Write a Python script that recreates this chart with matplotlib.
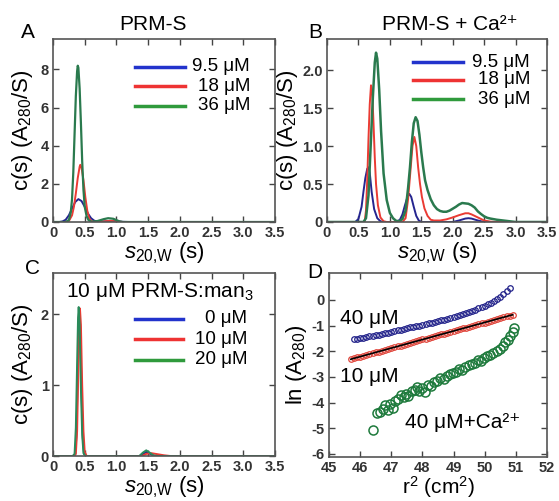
import matplotlib
matplotlib.use('Agg')
import matplotlib.pyplot as plt
import numpy as np

plt.rcParams['font.family'] = ['Liberation Sans', 'DejaVu Sans']
plt.rcParams['mathtext.fontset'] = 'custom'
plt.rcParams['mathtext.rm'] = 'Liberation Sans'
plt.rcParams['mathtext.it'] = 'Liberation Sans:italic'
plt.rcParams['mathtext.bf'] = 'Liberation Sans:bold'
plt.rcParams['axes.unicode_minus'] = False

# ---- data ----
# panel A: PRM-S, c(s) vs s20,w
a_labels = ['9.5 μM', '18 μM', '36 μM']
a_blue = [(0, 0), (0.10, 0), (0.15, 0.03), (0.20, 0.12), (0.25, 0.35), (0.30, 0.70), (0.35, 1.05),
          (0.40, 1.20), (0.45, 1.10), (0.50, 0.80), (0.55, 0.45), (0.60, 0.20), (0.65, 0.07),
          (0.70, 0.02), (0.80, 0.03), (0.90, 0.05), (1.00, 0.04), (1.10, 0.01), (1.20, 0), (3.5, 0)]
a_red = [(0, 0), (0.20, 0), (0.25, 0.05), (0.30, 0.35), (0.33, 0.80), (0.36, 1.50), (0.39, 2.30),
         (0.42, 2.90), (0.43, 3.00), (0.45, 2.85), (0.48, 2.20), (0.51, 1.30), (0.54, 0.60),
         (0.57, 0.20), (0.60, 0.05), (0.65, 0), (0.80, 0.03), (0.90, 0.06), (1.00, 0.03), (1.10, 0), (3.5, 0)]
a_green = [(0, 0), (0.20, 0), (0.25, 0.10), (0.28, 0.50), (0.30, 1.20), (0.32, 2.60), (0.34, 4.60),
           (0.36, 6.60), (0.38, 7.90), (0.39, 8.20), (0.40, 8.10), (0.42, 7.00), (0.44, 5.20),
           (0.46, 3.20), (0.48, 1.70), (0.50, 0.80), (0.53, 0.30), (0.56, 0.10), (0.60, 0.02),
           (0.70, 0.05), (0.80, 0.15), (0.87, 0.20), (0.95, 0.17), (1.00, 0.10), (1.05, 0.03),
           (1.10, 0), (3.5, 0)]

# panel B: PRM-S + Ca2+
b_labels = ['9.5 μM', '18 μM', '36 μM']
b_blue = [(0, 0), (0.45, 0), (0.50, 0.04), (0.55, 0.20), (0.58, 0.40), (0.61, 0.58), (0.64, 0.70),
          (0.66, 0.72), (0.68, 0.65), (0.71, 0.40), (0.75, 0.17), (0.80, 0.05), (0.85, 0.01),
          (0.90, 0), (1.10, 0), (1.16, 0.03), (1.20, 0.10), (1.24, 0.22), (1.28, 0.33), (1.31, 0.37),
          (1.34, 0.33), (1.38, 0.20), (1.42, 0.08), (1.46, 0.02), (1.50, 0), (2.00, 0), (2.10, 0.02),
          (2.20, 0.045), (2.25, 0.05), (2.30, 0.045), (2.40, 0.02), (2.50, 0), (3.5, 0)]
b_red = [(0, 0), (0.58, 0), (0.60, 0.01), (0.62, 0.15), (0.64, 0.55), (0.66, 1.10), (0.68, 1.55),
         (0.70, 1.80), (0.72, 1.70), (0.74, 1.30), (0.76, 0.85), (0.78, 0.50), (0.81, 0.22),
         (0.85, 0.06), (0.90, 0.01), (0.95, 0), (1.20, 0), (1.25, 0.05), (1.29, 0.30), (1.33, 0.70),
         (1.36, 1.00), (1.39, 1.12), (1.42, 1.00), (1.45, 0.72), (1.48, 0.50), (1.51, 0.33),
         (1.55, 0.18), (1.60, 0.08), (1.65, 0.03), (1.70, 0.02), (1.80, 0.02), (1.90, 0.035),
         (2.00, 0.06), (2.10, 0.09), (2.20, 0.115), (2.25, 0.115), (2.30, 0.10), (2.40, 0.06),
         (2.50, 0.02), (2.60, 0.005), (2.70, 0), (3.5, 0)]
b_green = [(0, 0), (0.58, 0), (0.62, 0.05), (0.66, 0.35), (0.70, 1.10), (0.73, 1.65), (0.76, 2.10),
           (0.78, 2.23), (0.80, 2.15), (0.83, 1.75), (0.86, 1.20), (0.90, 0.64), (0.95, 0.29),
           (1.00, 0.12), (1.05, 0.05), (1.10, 0.015), (1.15, 0.01), (1.20, 0.04), (1.25, 0.15),
           (1.29, 0.45), (1.32, 0.72), (1.35, 1.05), (1.38, 1.30), (1.41, 1.38), (1.44, 1.33),
           (1.47, 1.15), (1.50, 0.92), (1.53, 0.72), (1.56, 0.55), (1.60, 0.42), (1.65, 0.30),
           (1.70, 0.22), (1.75, 0.17), (1.80, 0.145), (1.85, 0.135), (1.90, 0.135), (1.95, 0.15),
           (2.00, 0.175), (2.05, 0.20), (2.10, 0.23), (2.15, 0.25), (2.20, 0.245), (2.25, 0.24),
           (2.30, 0.22), (2.35, 0.19), (2.40, 0.14), (2.45, 0.105), (2.50, 0.075), (2.55, 0.055),
           (2.60, 0.045), (2.70, 0.03), (2.80, 0.02), (2.90, 0.01), (3.00, 0), (3.5, 0)]

# panel C: 10 uM PRM-S:man3
c_labels = ['0 μM', '10 μM', '20 μM']
c_blue = [(0, 0), (0.32, 0), (0.35, 0.02), (0.37, 0.30), (0.39, 1.20), (0.405, 1.90), (0.415, 2.08),
          (0.43, 1.80), (0.45, 0.90), (0.47, 0.25), (0.49, 0.03), (0.52, 0), (1.38, 0), (1.44, 0.04),
          (1.48, 0.06), (1.53, 0.03), (1.60, 0), (3.5, 0)]
c_red = [(0, 0), (0.33, 0), (0.36, 0.03), (0.38, 0.35), (0.40, 1.25), (0.415, 1.90), (0.425, 2.08),
         (0.44, 1.85), (0.46, 1.00), (0.48, 0.35), (0.50, 0.06), (0.53, 0), (1.40, 0), (1.47, 0.03),
         (1.55, 0.04), (1.65, 0.025), (1.75, 0.01), (1.85, 0), (3.5, 0)]
c_green = [(0, 0), (0.31, 0), (0.34, 0.03), (0.36, 0.40), (0.38, 1.30), (0.395, 1.95), (0.405, 2.10),
           (0.42, 1.85), (0.44, 0.95), (0.46, 0.30), (0.48, 0.04), (0.51, 0), (1.36, 0), (1.42, 0.05),
           (1.47, 0.08), (1.52, 0.05), (1.58, 0.01), (1.65, 0), (3.5, 0)]

# panel D: ln(A280) vs r^2
d_blue = [(45.8, -1.54), (45.9, -1.52), (46.0, -1.50), (46.1, -1.47), (46.2, -1.45), (46.3, -1.42),
          (46.4, -1.40), (46.5, -1.37), (46.6, -1.35), (46.7, -1.32), (46.8, -1.29), (46.9, -1.27),
          (47.0, -1.24), (47.1, -1.21), (47.2, -1.18), (47.3, -1.16), (47.4, -1.13), (47.5, -1.10),
          (47.6, -1.07), (47.7, -1.05), (47.8, -1.02), (47.9, -1.00), (48.0, -0.97), (48.1, -0.94),
          (48.2, -0.91), (48.3, -0.88), (48.4, -0.86), (48.5, -0.83), (48.6, -0.80), (48.7, -0.77),
          (48.8, -0.73), (48.9, -0.70), (49.0, -0.66), (49.1, -0.63), (49.2, -0.59), (49.3, -0.55),
          (49.4, -0.51), (49.5, -0.47), (49.6, -0.43), (49.7, -0.38), (49.8, -0.33), (49.9, -0.28),
          (50.0, -0.23), (50.1, -0.17), (50.2, -0.11), (50.3, -0.05), (50.4, 0.03), (50.5, 0.12),
          (50.6, 0.22), (50.7, 0.34), (50.8, 0.46)]
d_red = [(45.7, -2.31), (45.8, -2.28), (45.9, -2.24), (46.0, -2.21), (46.1, -2.18), (46.2, -2.14),
         (46.3, -2.11), (46.4, -2.08), (46.5, -2.04), (46.6, -2.01), (46.7, -1.98), (46.8, -1.94),
         (46.9, -1.91), (47.0, -1.88), (47.1, -1.84), (47.2, -1.81), (47.3, -1.78), (47.4, -1.74),
         (47.5, -1.71), (47.6, -1.68), (47.7, -1.64), (47.8, -1.61), (47.9, -1.58), (48.0, -1.54),
         (48.1, -1.51), (48.2, -1.48), (48.3, -1.44), (48.4, -1.41), (48.5, -1.38), (48.6, -1.34),
         (48.7, -1.31), (48.8, -1.28), (48.9, -1.24), (49.0, -1.21), (49.1, -1.18), (49.2, -1.14),
         (49.3, -1.11), (49.4, -1.08), (49.5, -1.04), (49.6, -1.01), (49.7, -0.98), (49.8, -0.94),
         (49.9, -0.91), (50.0, -0.88), (50.1, -0.84), (50.2, -0.81), (50.3, -0.78), (50.4, -0.74),
         (50.5, -0.71), (50.6, -0.68), (50.7, -0.64), (50.8, -0.61), (50.9, -0.58)]
d_green = [(46.40, -5.05), (46.55, -4.40), (46.65, -4.35), (46.72, -4.25), (46.80, -4.10),
           (46.88, -4.30), (46.95, -4.05), (47.05, -4.20), (47.12, -3.95), (47.20, -3.85),
           (47.30, -3.70), (47.40, -3.80), (47.48, -3.65), (47.55, -3.75), (47.65, -3.55),
           (47.75, -3.50), (47.83, -3.40), (47.90, -3.55), (48.00, -3.45), (48.08, -3.60),
           (48.18, -3.30), (48.28, -3.35), (48.38, -3.20), (48.48, -3.15), (48.58, -3.05),
           (48.68, -3.10), (48.78, -2.95), (48.88, -2.90), (48.98, -2.85), (49.08, -2.80),
           (49.18, -2.70), (49.28, -2.72), (49.38, -2.60), (49.48, -2.55), (49.58, -2.50),
           (49.68, -2.45), (49.78, -2.35), (49.88, -2.38), (49.98, -2.25), (50.08, -2.20),
           (50.18, -2.15), (50.28, -2.05), (50.38, -2.00), (50.48, -1.90), (50.58, -1.80),
           (50.66, -1.65), (50.74, -1.55), (50.82, -1.40), (50.90, -1.25), (50.95, -1.10)]

s_ticks = [0, 0.5, 1.0, 1.5, 2.0, 2.5, 3.0, 3.5]
s_ticklabels = ['0', '0.5', '1.0', '1.5', '2.0', '2.5', '3.0', '3.5']

key_colors = ['#2233cc', '#ee3333', '#2f9a3c']
line_blue, line_red, line_green = '#25258f', '#ea3b33', '#2a7a4e'

fig = plt.figure(figsize=(5.59, 5.01), dpi=100)
W, H = 559.0, 501.0


def box(l, t, r, b):
    return [l / W, 1 - b / H, (r - l) / W, (b - t) / H]


axA = fig.add_axes(box(53, 39, 275, 222))
axB = fig.add_axes(box(327, 39, 547, 222))
axC = fig.add_axes(box(53, 273, 275, 456))
axD = fig.add_axes(box(329, 273, 547, 457))


def style(ax, xt, xtl, yt, ytl):
    ax.set_xticks(xt)
    ax.set_xticklabels(xtl, fontsize=10.5, fontweight='bold', color='#333333')
    ax.set_yticks(yt)
    ax.set_yticklabels(ytl, fontsize=10.5, fontweight='bold', color='#333333')
    ax.tick_params(direction='in', top=True, right=True, length=4, width=1, pad=3, color='#444444')
    for sp in ax.spines.values():
        sp.set_linewidth(1.2)
        sp.set_color('#555555')


def curve(ax, pts, color, lw=1.4):
    s, c = zip(*pts)
    ax.plot(s, c, color=color, lw=lw)


def keys(ax, labels, x0, x1, xt, ys):
    for lab, col, y in zip(labels, key_colors, ys):
        ax.plot([x0, x1], [y, y], transform=ax.transAxes, color=col, lw=2.5)
        ax.text(xt, y, lab, transform=ax.transAxes, ha='right', va='center', fontsize=13.5)


s_label = r'$s_{\mathrm{20{,}W}}$ (s)'
c_label = r'c(s) (A$_{\mathrm{280}}$/S)'
ca = 'Ca²⁺'

# A
curve(axA, a_blue, line_blue)
curve(axA, a_red, line_red)
curve(axA, a_green, line_green, 1.6)
axA.set_xlim(0, 3.5)
axA.set_ylim(0, 9.6)
style(axA, s_ticks, s_ticklabels, [0, 2, 4, 6, 8], ['0', '2', '4', '6', '8'])
axA.set_xlabel(s_label, fontsize=16, labelpad=0)
axA.set_ylabel(c_label, fontsize=16, labelpad=4)
axA.text(0.45, 1.03, 'PRM-S', transform=axA.transAxes, ha='center', va='bottom', fontsize=15)
keys(axA, a_labels, 0.37, 0.595, 0.887, [0.847, 0.743, 0.634])

# B
curve(axB, b_blue, line_blue)
curve(axB, b_red, line_red)
curve(axB, b_green, line_green, 1.8)
axB.set_xlim(0, 3.5)
axB.set_ylim(0, 2.41)
style(axB, s_ticks, s_ticklabels, [0, 0.5, 1.0, 1.5, 2.0], ['0', '0.5', '1.0', '1.5', '2.0'])
axB.set_xlabel(s_label, fontsize=16, labelpad=0)
axB.set_ylabel(c_label, fontsize=16, labelpad=2)
axB.text(0.56, 1.03, 'PRM-S + ' + ca, transform=axB.transAxes, ha='center', va='bottom', fontsize=15)
keys(axB, b_labels, 0.39, 0.618, 0.923, [0.874, 0.776, 0.672])

# C
curve(axC, c_blue, line_blue)
curve(axC, c_red, line_red)
curve(axC, c_green, '#2a8a5a')
axC.set_xlim(0, 3.5)
axC.set_ylim(0, 2.58)
style(axC, s_ticks, s_ticklabels, [0, 1, 2], ['0', '1', '2'])
axC.set_xlabel(s_label, fontsize=16, labelpad=0)
axC.set_ylabel(c_label, fontsize=16, labelpad=4)
axC.text(0.48, 0.896, r'10 μM PRM-S:man$_3$', transform=axC.transAxes, ha='center', va='center', fontsize=15)
keys(axC, c_labels, 0.37, 0.586, 0.874, [0.749, 0.639, 0.525])

# D
bx, by = zip(*d_blue)
rx, ry = zip(*d_red)
gx, gy = zip(*d_green)
axD.plot(bx, by, 'o', mfc='none', mec='#22228a', ms=4, mew=0.9)
axD.plot(rx, ry, 'o', mfc='none', mec='#e0463c', ms=4, mew=0.9)
fit = np.polyfit(rx, ry, 1)
axD.plot([rx[0], rx[-1]], np.polyval(fit, [rx[0], rx[-1]]), color='black', lw=1.2)
axD.plot(gx, gy, 'o', mfc='none', mec='#1e7a3c', ms=6.5, mew=1.1)
axD.set_xlim(45, 52)
axD.set_ylim(-6.12, 1.05)
style(axD, [45, 46, 47, 48, 49, 50, 51, 52], ['45', '46', '47', '48', '49', '50', '51', '52'],
      [0, -1, -2, -3, -4, -5, -6], ['0', '-1', '-2', '-3', '-4', '-5', '-6'])
axD.set_xlabel(r'r$^{\mathrm{2}}$ (cm$^{\mathrm{2}}$)', fontsize=15, labelpad=-1)
axD.set_ylabel(r'ln (A$_{\mathrm{280}}$)', fontsize=16, labelpad=2)
axD.text(0.05, 0.755, '40 μM', transform=axD.transAxes, ha='left', va='center', fontsize=15)
axD.text(0.05, 0.44, '10 μM', transform=axD.transAxes, ha='left', va='center', fontsize=15)
axD.text(0.35, 0.185, '40 μM+' + ca, transform=axD.transAxes, ha='left', va='center', fontsize=15)

# panel letters
for x, y, letter in [(28, 33, 'A'), (315, 33, 'B'), (33, 268, 'C'), (315, 272, 'D')]:
    fig.text(x / W, 1 - y / H, letter, ha='center', va='center', fontsize=15)

fig.savefig('out.png', dpi=100)
